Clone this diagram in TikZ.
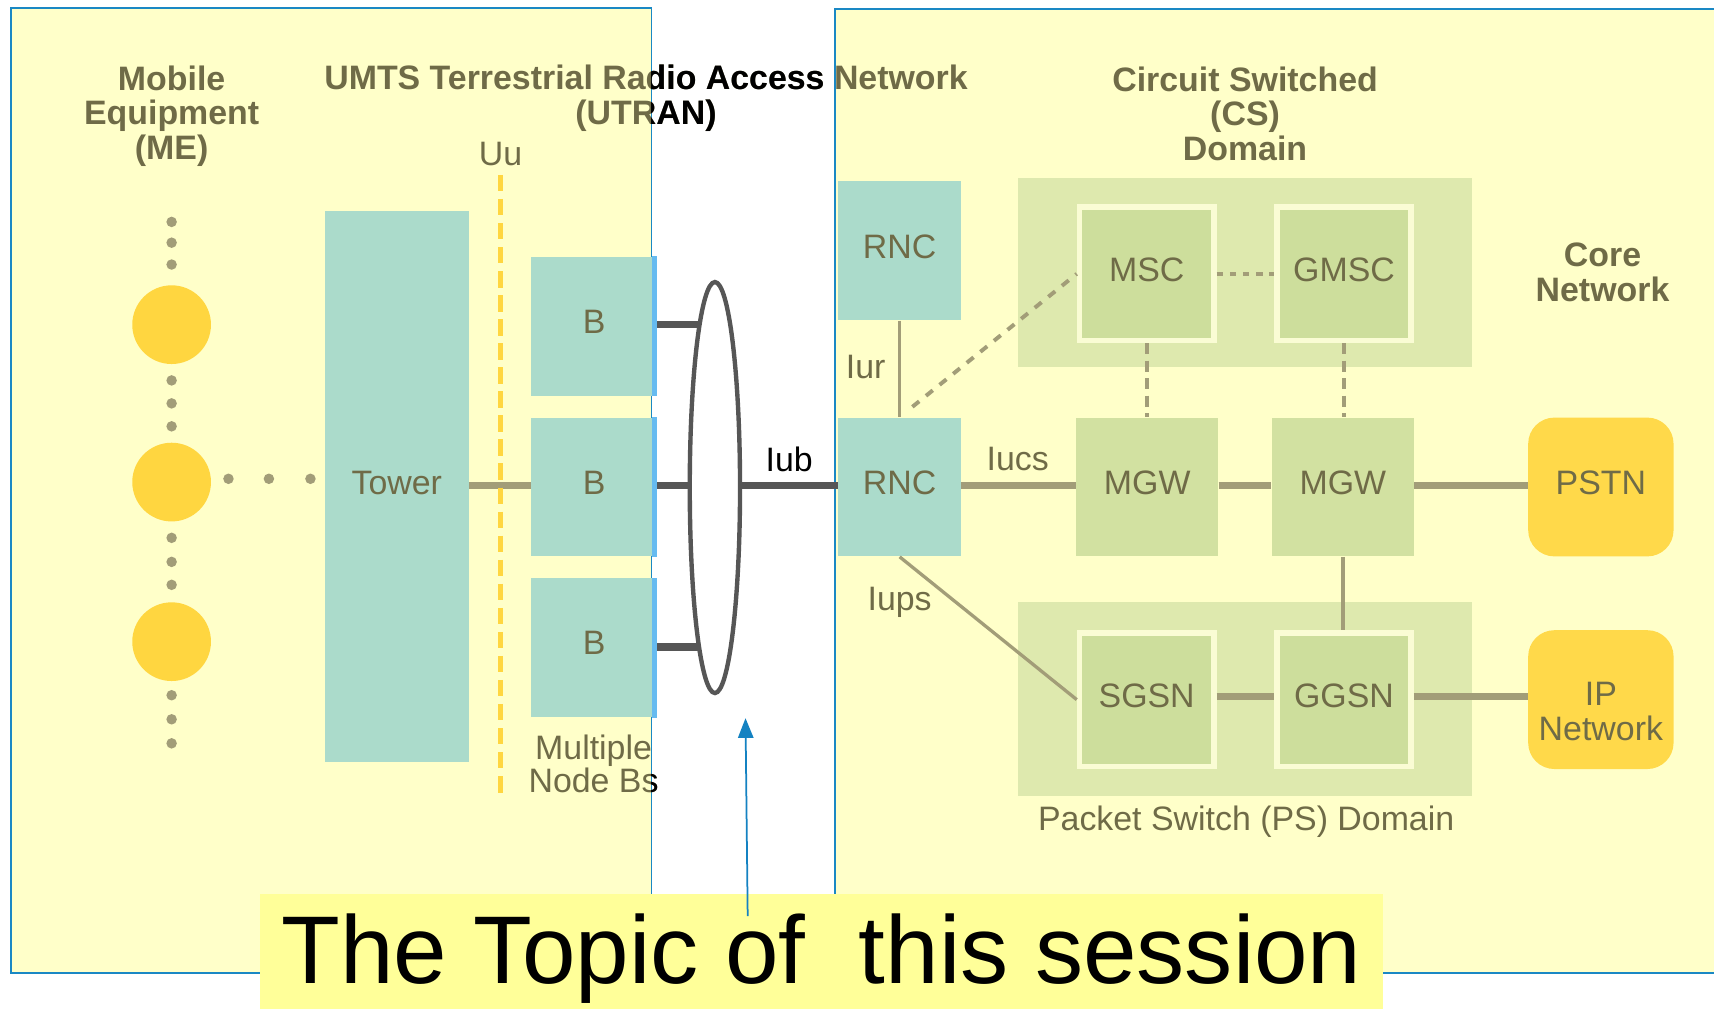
\documentclass[tikz,border=0pt]{standalone}
\usepackage{fontspec}
\setmainfont{Liberation Sans}
\usetikzlibrary{arrows.meta,shapes.geometric}

\definecolor{panelbg}{HTML}{FFFFC9}
\definecolor{panelrule}{HTML}{1A88C4}
\definecolor{rancol}{HTML}{ABDBCB}
\definecolor{csbg}{HTML}{DEE9AE}
\definecolor{nodebg}{HTML}{CDDE9C}
\definecolor{nodeedge}{HTML}{FAFCD4}
\definecolor{gwbg}{HTML}{D2E1A1}
\definecolor{extbg}{HTML}{FFD94A}
\definecolor{phonecol}{HTML}{FFD640}
\definecolor{labelcol}{HTML}{6F6B47}
\definecolor{linkcol}{HTML}{A29D78}
\definecolor{darklink}{HTML}{565656}
\definecolor{stripcol}{HTML}{66BBF0}
\definecolor{notebg}{HTML}{FFFF99}
\definecolor{pointercol}{HTML}{1482C2}

\tikzset{
  lbl/.style={font=\fontsize{15.5}{15.75}\selectfont, align=center, inner sep=0pt, text=labelcol},
  heading/.style={lbl, font=\fontsize{15.5}{15.75}\selectfont\bfseries},
  panel/.style={fill=panelbg, draw=panelrule, line width=0.8pt},
  boxlbl/.style={lbl, text depth=4pt},
  ranbox/.style={boxlbl, fill=rancol, minimum width=56pt, minimum height=63.5pt},
  nodeb/.style={boxlbl, fill=rancol, minimum width=57.5pt, minimum height=63.5pt},
  domainbox/.style={fill=csbg, minimum width=208pt, minimum height=87pt, inner sep=0pt},
  corebox/.style={boxlbl, fill=nodebg, draw=nodeedge, line width=2.5pt, minimum width=61.5pt, minimum height=61pt},
  gwbox/.style={boxlbl, fill=gwbg, minimum width=65pt, minimum height=63.5pt},
  extbox/.style={boxlbl, fill=extbg, rounded corners=12pt, minimum width=66.5pt, minimum height=63.5pt},
  phone/.style={circle, fill=phonecol, minimum size=36pt, inner sep=0pt},
  thicklink/.style={linkcol, line width=3pt},
  thinlink/.style={linkcol, line width=1.5pt},
  dashlink/.style={linkcol, line width=2pt, dash pattern=on 5pt off 3pt},
  diaglink/.style={linkcol, line width=1.8pt, dash pattern=on 4pt off 4pt},
  iublink/.style={darklink, line width=3.5pt},
  uuline/.style={phonecol, line width=2.5pt, dash pattern=on 7.5pt off 3.5pt},
}

\newcommand\straddletexts[1]{%
  \node[heading, text=#1] (utran) at (591,90) {UMTS Terrestrial Radio Access Network\\(UTRAN)};
  \node[lbl, text=#1, font=\fontsize{15.5}{15}\selectfont] (nodebs) at (543,699) {Multiple\\Node Bs};
}

\begin{document}
\begin{tikzpicture}[x=0.5pt, y=-0.5pt]
  % page
  \fill[white] (0,0) rectangle (1568,923);
  \useasboundingbox (0,0) rectangle (1568,923);

  % the two shaded panels
  \draw[panel] (10,7) rectangle (596,890);
  \draw[panel] (764,8) rectangle (1590,890);

  % headings
  \node[heading] (me) at (157,106) {Mobile\\Equipment\\(ME)};
  \node[heading] (cs) at (1139,104) {Circuit Switched\\(CS)\\Domain};
  \node[heading] (core) at (1466,249) {Core\\Network};
  \node[lbl] (uu) at (458,141) {Uu};

  % Uu air interface
  \coordinate (uutop) at (458,160);
  \coordinate (uubot) at (458,728);

  % mobile equipment
  \node[phone] (me1) at (157,297) {};
  \node[phone] (me2) at (157,441) {};
  \node[phone] (me3) at (157,587) {};
  \foreach \yy in {203,222,242,348,369,390,492,514,535,636,658,680}
    \fill[linkcol] (157,\yy) circle (2.4pt);
  \foreach \xx in {209,246,284}
    \fill[linkcol] (\xx,438) circle (2.4pt);

  % radio access side
  \node[lbl, fill=rancol, minimum width=66pt, minimum height=252pt] (tower) at (363,445) {};
  \node[lbl] (towerlbl) at (363,442) {Tower};
  \node[nodeb] (b1) at (543.5,298.5) {B};
  \node[nodeb] (b2) at (543.5,445.5) {B};
  \node[nodeb] (b3) at (543.5,592.5) {B};
  \foreach \bn in {b1,b2,b3}
    \fill[stripcol] (\bn.north east) rectangle ([xshift=-2.5pt]\bn.south east);

  \draw[thicklink] (tower.east |- 0,444) -- (b2.west |- 0,444);
  \draw[uuline] (uutop) -- (uubot);

  % Iub ring
  \node[draw=darklink, ellipse, line width=2pt, minimum width=23pt, minimum height=188pt, inner sep=0pt] (ring) at (654,446) {};
  \draw[iublink] (b1.east |- 0,297) -- (ring.95 |- 0,297);
  \draw[iublink] (b2.east |- 0,444) -- (ring.west |- 0,444);
  \draw[iublink] (b3.east |- 0,592) -- (ring.265 |- 0,592);

  % RNCs
  \node[ranbox] (rnc1) at (823,229.5) {RNC};
  \node[ranbox] (rnc2) at (823,445.5) {RNC};
  \draw[iublink] (ring.east |- 0,444) -- (rnc2.west |- 0,444);
  \node[lbl, text=black] (iub) at (722,420) {Iub};

  % core network domains
  \node[domainbox, minimum height=86.5pt] (csdom) at (1139,249.5) {};
  \node[domainbox, minimum height=88.5pt] (psdom) at (1139,639.5) {};
  \node[corebox] (msc) at (1049,250.5) {MSC};
  \node[corebox] (gmsc) at (1229.5,250.5) {GMSC};
  \node[corebox] (sgsn) at (1049,640) {SGSN};
  \node[corebox] (ggsn) at (1229.5,640) {GGSN};
  \node[gwbox] (mgw1) at (1049.5,445.5) {MGW};
  \node[gwbox] (mgw2) at (1228.5,445.5) {MGW};
  \node[extbox] (pstn) at (1464.5,445.5) {PSTN};
  \node[extbox] (ipnet) at (1464.5,640) {};
  \node[lbl] (ipnetlbl) at (1464.5,651) {IP\\Network};
  \node[lbl] (psname) at (1140,752) {Packet Switch (PS) Domain};

  % interfaces
  \draw[thinlink] (rnc1.south) -- (rnc2.north);
  \node[lbl] (iur) at (792,336) {Iur};
  \draw[diaglink, shorten <=7.5pt] (rnc2.north) -- (msc.west);
  \draw[dashlink, dash pattern=on 3pt off 3pt] (msc.east) -- (gmsc.west);
  \draw[dashlink] (msc.south) -- (msc.south |- mgw1.north);
  \draw[dashlink] (gmsc.south) -- (gmsc.south |- mgw2.north);
  \draw[thicklink] (rnc2.east |- 0,444) -- (mgw1.west |- 0,444);
  \node[lbl] (iucs) at (931,420) {Iucs};
  \draw[thicklink] (mgw1.east |- 0,444) -- (mgw2.west |- 0,444);
  \draw[thicklink] (mgw2.east |- 0,444) -- (pstn.west |- 0,444);
  \draw[thinlink] (mgw2.south) -- (mgw2.south |- ggsn.north);
  \draw[thinlink] (rnc2.south) -- (sgsn.west);
  \node[lbl] (iups) at (823,551) {Iups};
  \draw[thicklink] (sgsn.east |- 0,637) -- (ggsn.west |- 0,637);
  \draw[thicklink] (ggsn.east |- 0,637) -- (ipnet.west |- 0,637);

  % labels that run across the gap between the panels
  \straddletexts{labelcol}
  \begin{scope}
    \clip (596,0) rectangle (764,923);
    \straddletexts{black}
  \end{scope}

  % session note
  \node[fill=notebg, minimum width=513.5pt, minimum height=55pt, inner sep=0pt] (notebox) at (751.5,873) {};
  \node[anchor=base, inner sep=0pt, font=\fontsize{44}{48}\selectfont] (topic) at (751.5,900) {The Topic of \ this session};
  \coordinate (ptail) at (684,838);
  \coordinate (phead) at (682,657);
  \draw[pointercol, line width=0.8pt, -{Triangle[length=9pt,width=7pt]}] (ptail) -- (phead);
\end{tikzpicture}
\end{document}
